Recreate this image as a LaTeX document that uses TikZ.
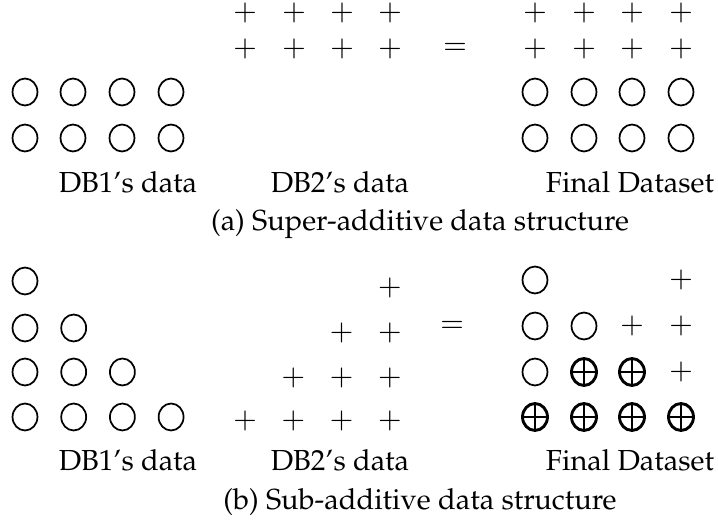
\documentclass[tikz,border=0pt]{standalone}
\usepackage[T1]{fontenc}
\usepackage{mathpazo}
\usetikzlibrary{shapes.geometric}
\begin{document}
\begin{tikzpicture}[x=0.345pt, y=-0.345pt,
  ring/.style={draw, ellipse, line width=0.6pt, inner sep=0pt, minimum width=8.6pt, minimum height=9.3pt},
  both/.style={ring, line width=1pt, path picture={
    \draw[line width=1pt] (path picture bounding box.north) -- (path picture bounding box.south)
      (path picture bounding box.west) -- (path picture bounding box.east);}},
  sym/.style={inner sep=0pt},
  lbl/.style={inner sep=0pt}
]
\useasboundingbox (0,0) rectangle (718,531);

% (a) super-additive
\foreach \i/\y in {1/92,2/138}
  \foreach \j/\x in {1/25,2/73,3/122,4/171}
    \node[ring] (a1-\i-\j) at (\x,\y) {};
\foreach \i/\y in {1/13,2/49}
  \foreach \j/\x in {1/245,2/294,3/342,4/390}
    \node[sym] (a2-\i-\j) at (\x,\y) {$+$};
\foreach \i/\y in {1/13,2/49}
  \foreach \j/\x in {1/535,2/584,3/632,4/681}
    \node[sym] (a3-\i-\j) at (\x,\y) {$+$};
\foreach \i/\y in {3/92,4/138}
  \foreach \j/\x in {1/535,2/584,3/632,4/681}
    \node[ring] (a3-\i-\j) at (\x,\y) {};
\node[sym] (aeq) at (455,49) {$=$};
\node[lbl] (adb1) at (128,182) {DB1's data};
\node[lbl] (adb2) at (340,182) {DB2's data};
\node[lbl] (afin) at (630,182) {Final Dataset};
\node[lbl] (acap) at (420,224) {(a) Super-additive data structure};

% (b) sub-additive
\foreach \i/\y in {1/281,2/328,3/372,4/417}
  \foreach \j in {1,...,\i}
    \node[ring] (b1-\i-\j) at ({25+(\j-1)*48.7},\y) {};
\foreach \i/\y/\s in {1/288/4,2/333/3,3/378/2,4/421/1}
  \foreach \j in {\s,...,4}
    \node[sym] (b2-\i-\j) at ({245+(\j-1)*48.3},\y) {$+$};
\node[ring] (b3-1-1) at (535,280) {};
\node[sym] (b3-1-4) at (681,280) {$+$};
\node[ring] (b3-2-1) at (535,326) {};
\node[ring] (b3-2-2) at (584,326) {};
\node[sym] (b3-2-3) at (632,326) {$+$};
\node[sym] (b3-2-4) at (681,326) {$+$};
\node[ring] (b3-3-1) at (535,372) {};
\node[both] (b3-3-2) at (584,372) {};
\node[both] (b3-3-3) at (632,372) {};
\node[sym] (b3-3-4) at (681,372) {$+$};
\foreach \j/\x in {1/535,2/584,3/632,4/681}
  \node[both] (b3-4-\j) at (\x,417) {};
\node[sym] (beq) at (452,327) {$=$};
\node[lbl] (bdb1) at (128,460) {DB1's data};
\node[lbl] (bdb2) at (340,460) {DB2's data};
\node[lbl] (bfin) at (630,460) {Final Dataset};
\node[lbl] (bcap) at (420,502) {(b) Sub-additive data structure};
\end{tikzpicture}
\end{document}
